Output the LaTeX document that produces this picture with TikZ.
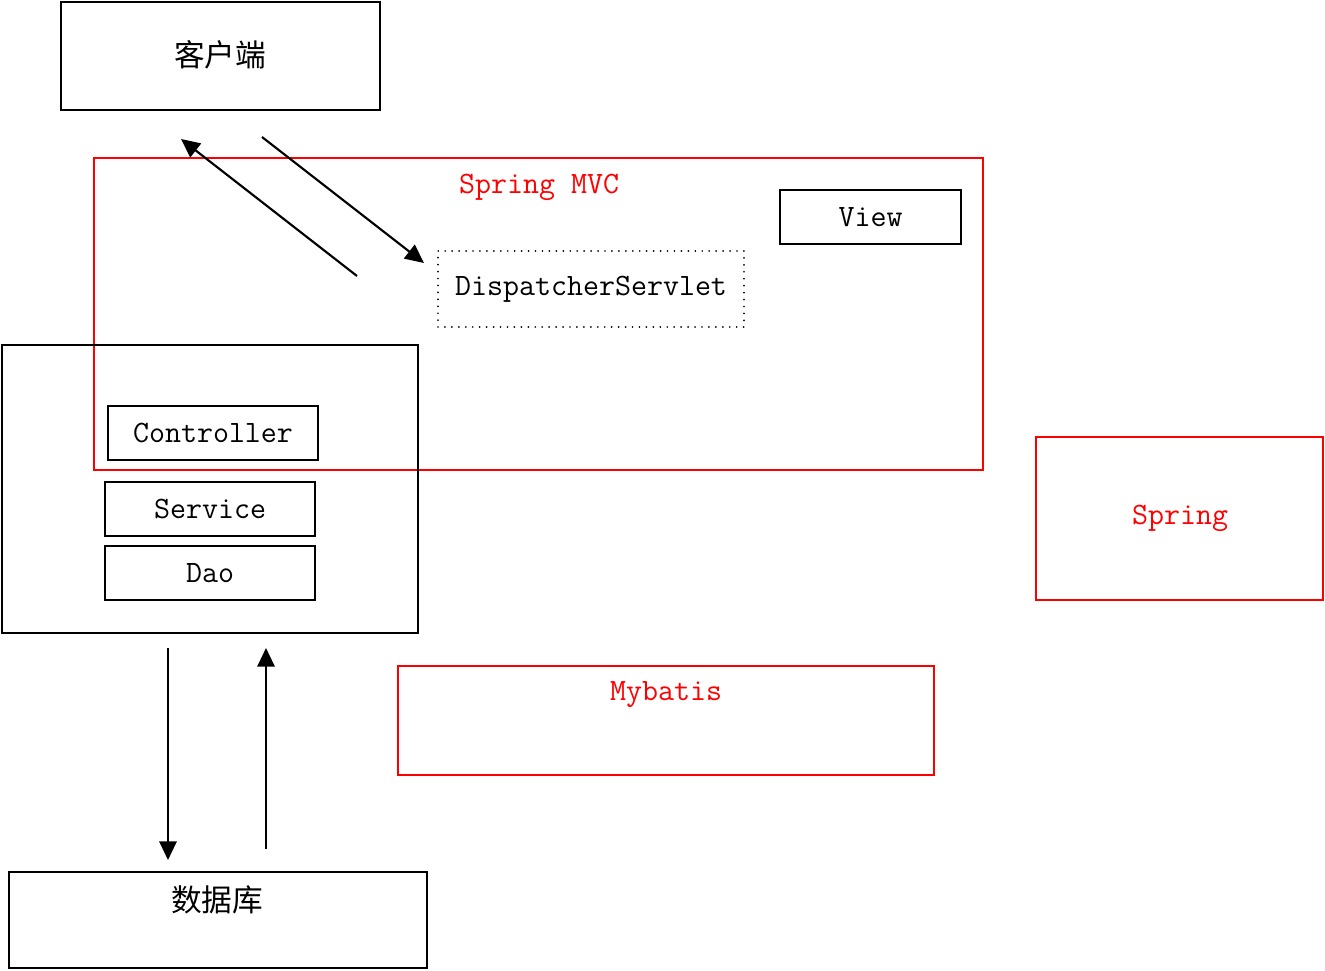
\documentclass[tikz,border=0pt]{standalone}
\usepackage{fontspec}
\newfontfamily\cjk{Noto Sans CJK SC}
\usetikzlibrary{arrows.meta}
\begin{document}
\begin{tikzpicture}[x=0.75pt,y=-0.75pt,
  box/.style={draw=black,line width=1.5pt,inner sep=0pt},
  redbox/.style={draw=red,line width=1.5pt,inner sep=0pt},
  dotbox/.style={draw=black,line width=1.4pt,dash pattern=on 0.01pt off 5.2pt,line cap=round,inner sep=0pt},
  lbl/.style={inner sep=0pt,font=\ttfamily\fontsize{23.3}{25}\selectfont},
  cjklbl/.style={inner sep=0pt,font=\cjk\fontsize{23}{26}\selectfont},
  redlbl/.style={lbl,text=red},
  arr/.style={line width=1.6pt,-{Triangle[length=14pt,width=13pt]}}]
\useasboundingbox (0,0) rectangle (1325,971);
% boxes
\node[box,minimum width=239.25pt,minimum height=81pt] (client) at (220.5,56) {};
\node[cjklbl] (clienttxt) at (220,55) {客户端};
\node[redbox,minimum width=666.75pt,minimum height=234pt] (mvc) at (538.5,314) {};
\node[redlbl] (mvctxt) at (539,187) {Spring MVC};
\node[box,minimum width=135.75pt,minimum height=40.5pt] (view) at (870.5,217) {};
\node[lbl] (viewtxt) at (870.5,217) {View};
\node[dotbox,minimum width=229.5pt,minimum height=57pt] (ds) at (591,289) {};
\node[lbl] (dstxt) at (591,289) {DispatcherServlet};
\node[box,minimum width=312pt,minimum height=216pt] (app) at (210,489) {};
\node[box,minimum width=157.5pt,minimum height=40.5pt] (ctrl) at (213,433) {};
\node[lbl] (ctrltxt) at (213,433) {Controller};
\node[box,minimum width=157.5pt,minimum height=40.5pt] (svc) at (210,509) {};
\node[lbl] (svctxt) at (210,509) {Service};
\node[box,minimum width=157.5pt,minimum height=40.5pt] (dao) at (210,573) {};
\node[lbl] (daotxt) at (210,573) {Dao};
\node[redbox,minimum width=215.25pt,minimum height=122.25pt] (spring) at (1179.5,518.5) {};
\node[redlbl] (springtxt) at (1180,518) {Spring};
\node[redbox,minimum width=402pt,minimum height=81.75pt] (mybatis) at (666,720.5) {};
\node[redlbl] (mybatistxt) at (666,695) {Mybatis};
\node[box,minimum width=313.5pt,minimum height=72pt] (db) at (218,920) {};
\node[cjklbl] (dbtxt) at (217,900) {数据库};
% arrow end points
\coordinate (a1s) at (357,276);
\coordinate (a1e) at (181,139);
\coordinate (a2s) at (262,137);
\coordinate (a2e) at (424,263);
\coordinate (a3s) at (168,648);
\coordinate (a3e) at (168,860);
\coordinate (a4s) at (266,849);
\coordinate (a4e) at (266,648);
\draw[arr] (a1s) -- (a1e);
\draw[arr] (a2s) -- (a2e);
\draw[arr] (a3s) -- (a3e);
\draw[arr] (a4s) -- (a4e);
\end{tikzpicture}
\end{document}
